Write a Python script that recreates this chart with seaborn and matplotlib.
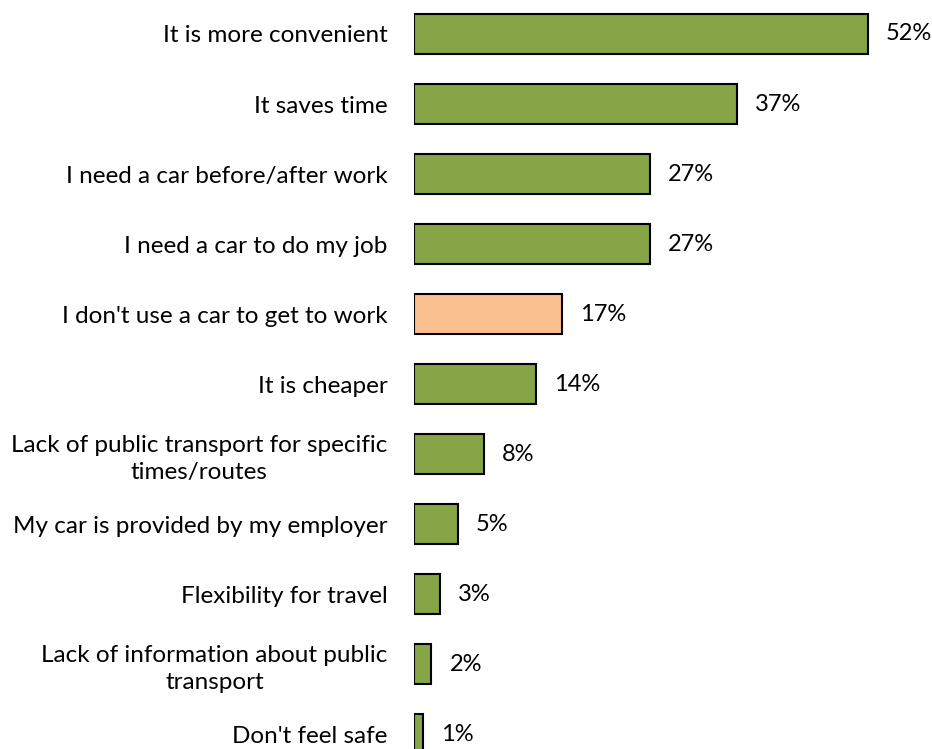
import matplotlib
matplotlib.use("Agg")
import matplotlib.pyplot as plt
import seaborn as sns
import pandas as pd

reasons = [
    "It is more convenient",
    "It saves time",
    "I need a car before/after work",
    "I need a car to do my job",
    "I don't use a car to get to work",
    "It is cheaper",
    "Lack of public transport for specific\ntimes/routes",
    "My car is provided by my employer",
    "Flexibility for travel",
    "Lack of information about public\ntransport",
    "Don't feel safe",
]
shares = [52, 37, 27, 27, 17, 14, 8, 5, 3, 2, 1]
bar_colors = ["#85A547", "#85A547", "#85A547", "#85A547", "#FAC090", "#85A547",
              "#85A547", "#85A547", "#85A547", "#85A547", "#85A547"]

sns.set_theme(style="white")
plt.rcParams["font.family"] = ["Lato", "DejaVu Sans"]
plt.rcParams["text.color"] = "black"
plt.rcParams["ytick.color"] = "black"

df = pd.DataFrame({"reason": reasons, "share": shares})

fig = plt.figure(figsize=(9.32, 7.49), dpi=100)
ax = fig.add_axes([414 / 932, 0, 480 / 932, 1])

sns.barplot(data=df, x="share", y="reason", hue="reason", palette=bar_colors,
            legend=False, orient="h", width=0.58, edgecolor="black",
            linewidth=1.5, saturation=1, ax=ax)

for patch, v in zip(ax.patches, shares):
    patch.set_clip_on(True)
    ax.annotate(f"{v}%", xy=(v, patch.get_y() + patch.get_height() / 2),
                xytext=(13, 0), textcoords="offset points",
                ha="left", va="center", fontsize=17, color="black",
                annotation_clip=False)

ax.set_xlim(0, 55)
ax.set_ylim(10.214, -0.4857)
ax.set_xlabel("")
ax.set_ylabel("")
ax.set_xticks([])
ax.tick_params(axis="y", length=0, pad=19, labelsize=17.5, labelcolor="black")
for lbl in ax.get_yticklabels():
    lbl.set_multialignment("center")
    lbl.set_linespacing(1.35)
for s in ax.spines.values():
    s.set_visible(False)

fig.savefig("out.png", dpi=100)
